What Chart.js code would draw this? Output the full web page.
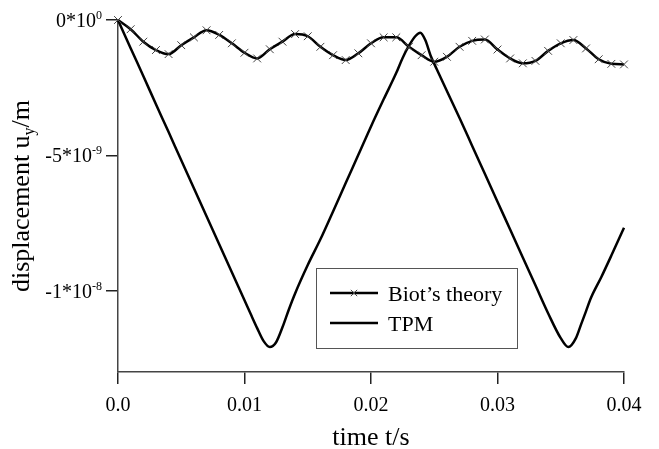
<!DOCTYPE html>
<html>
<head>
<meta charset="utf-8">
<script src="https://cdn.jsdelivr.net/npm/chart.js@4/dist/chart.umd.min.js"></script>
<style>
  body { margin: 0; background: #fff; }
  canvas { display: block; }
</style>
</head>
<body>
<canvas id="chart" width="659" height="449"></canvas>
<script>
// time in ms, displacement in 1e-9 m
const biotTime = [0, 1, 2, 3, 4, 5, 6, 7, 8, 9, 10, 11, 12, 13, 14, 15, 16, 17, 18, 19, 20,
                  21, 22, 23, 24, 25, 26, 27, 28, 29, 30, 31, 32, 33, 34, 35, 36, 37, 38, 39, 40];
const biotDisp = [0, -0.34, -0.80, -1.11, -1.26, -0.93, -0.64, -0.38, -0.55, -0.86, -1.21, -1.42,
                  -1.08, -0.80, -0.52, -0.60, -0.99, -1.30, -1.48, -1.23, -0.86, -0.64, -0.64,
                  -0.99, -1.30, -1.54, -1.36, -0.99, -0.77, -0.72, -1.09, -1.42, -1.60, -1.51,
                  -1.14, -0.86, -0.74, -1.05, -1.45, -1.62, -1.64];

const tpmTime = [0, 1, 2, 3, 4, 5, 6, 7, 8, 9, 10, 10.5, 11, 11.5, 12, 12.5, 13, 13.5, 14, 15, 16,
                 17, 18, 19, 20, 21, 22, 22.5, 23, 23.5, 23.9, 24.3, 24.7, 25.2, 26, 27, 28, 29,
                 30, 31, 32, 33, 34, 35, 35.6, 36.2, 36.6, 37, 37.4, 38.2, 39, 40];
const tpmDisp = [0, -1.04, -2.07, -3.11, -4.14, -5.18, -6.21, -7.25, -8.28, -9.32, -10.35, -10.87,
                 -11.38, -11.85, -12.08, -11.9, -11.35, -10.7, -10.1, -9.05, -8.1, -7.07, -6.02,
                 -4.98, -3.93, -2.93, -1.95, -1.4, -0.95, -0.6, -0.47, -0.75, -1.3, -1.82, -2.62,
                 -3.62, -4.65, -5.68, -6.71, -7.74, -8.77, -9.8, -10.83, -11.75, -12.08, -11.75,
                 -11.25, -10.75, -10.25, -9.5, -8.7, -7.67];

const xTicks = [0, 0.01, 0.02, 0.03, 0.04];
const xTickText = ["0.0", "0.01", "0.02", "0.03", "0.04"];
const yTicks = [0, -5e-9, -1e-8];
const yTickText = [["0*10", "0"], ["-5*10", "-9"], ["-1*10", "-8"]];

const FONT = '"Liberation Serif", "Times New Roman", serif';

// labels with superscripts/subscripts and the boxed legend
const extras = {
    id: "extras",
    afterDraw(chart) {
        const c = chart.ctx;
        const area = chart.chartArea;
        const ys = chart.scales.y;
        c.save();
        c.fillStyle = "#000";
        c.textBaseline = "alphabetic";

        // y tick labels
        yTicks.forEach((v, i) => {
            const py = ys.getPixelForValue(v);
            const right = area.left - 16;
            c.font = "12px " + FONT;
            const ew = c.measureText(yTickText[i][1]).width;
            c.textAlign = "left";
            c.fillText(yTickText[i][1], right - ew, py - 1);
            c.font = "20px " + FONT;
            c.textAlign = "right";
            c.fillText(yTickText[i][0], right - ew, py + 7);
        });

        // y title
        c.save();
        c.translate(29, (area.top + area.bottom) / 2);
        c.rotate(-Math.PI / 2);
        c.textAlign = "left";
        c.font = "26px " + FONT;
        const p1 = "displacement u", p3 = "/m";
        const w1 = c.measureText(p1).width, w3 = c.measureText(p3).width;
        c.font = "16px " + FONT;
        const w2 = c.measureText("y").width;
        let sx = -(w1 + w2 + w3) / 2;
        c.font = "26px " + FONT;
        c.fillText(p1, sx, 0);
        c.font = "16px " + FONT;
        c.fillText("y", sx + w1, 5);
        c.font = "26px " + FONT;
        c.fillText(p3, sx + w1 + w2, 0);
        c.restore();

        // x title
        c.font = "26px " + FONT;
        c.textAlign = "center";
        c.fillText("time t/s", (area.left + area.right) / 2, 445);

        // legend
        c.strokeStyle = "#555";
        c.lineWidth = 1;
        c.strokeRect(316.5, 268.5, 201, 80);
        const rows = [293, 323];
        chart.data.datasets.forEach((ds, i) => {
            const ly = rows[i];
            c.strokeStyle = ds.borderColor;
            c.lineWidth = ds.borderWidth;
            c.beginPath();
            c.moveTo(330, ly);
            c.lineTo(378, ly);
            c.stroke();
            if (ds.pointRadius > 0) {
                c.strokeStyle = ds.pointBorderColor;
                c.lineWidth = ds.pointBorderWidth;
                Chart.helpers.drawPoint(c, {
                    pointStyle: ds.pointStyle, radius: 4.5,
                    borderWidth: ds.pointBorderWidth
                }, 354, ly);
            }
            c.fillStyle = "#000";
            c.font = "22px " + FONT;
            c.textAlign = "left";
            c.fillText(ds.label, 388, ly + 8);
        });
        c.restore();
    }
};

const ctx = document.getElementById("chart").getContext("2d");
new Chart(ctx, {
    type: "line",
    data: {
        datasets: [{
            label: "Biot\u2019s theory",
            data: biotTime.map((t, i) => ({ x: t / 1000, y: biotDisp[i] * 1e-9 })),
            borderColor: "#000",
            borderWidth: 2.5,
            pointStyle: "crossRot",
            pointRadius: 5.5,
            pointBorderColor: "#444",
            pointBorderWidth: 1,
            cubicInterpolationMode: "monotone",
            clip: false
        }, {
            label: "TPM",
            data: tpmTime.map((t, i) => ({ x: t / 1000, y: tpmDisp[i] * 1e-9 })),
            borderColor: "#000",
            borderWidth: 2.5,
            pointRadius: 0,
            cubicInterpolationMode: "monotone",
            clip: false
        }]
    },
    options: {
        responsive: false,
        animation: false,
        devicePixelRatio: 1,
        layout: { padding: { left: 0, right: 35, top: 20, bottom: 0 } },
        plugins: { legend: { display: false }, tooltip: { enabled: false } },
        scales: {
            x: {
                type: "linear",
                min: 0,
                max: 0.04,
                afterBuildTicks: s => { s.ticks = xTicks.map(v => ({ value: v })); },
                afterFit: s => { s.height = 77; },
                ticks: {
                    callback: (v, i) => xTickText[i],
                    font: { family: FONT, size: 20 },
                    color: "#000",
                    padding: 10,
                    autoSkip: false,
                    maxRotation: 0
                },
                grid: { drawOnChartArea: false, tickLength: 12, color: "#222", lineWidth: 1.5 },
                border: { color: "#444", width: 1.5 }
            },
            y: {
                type: "linear",
                min: -1.3e-8,
                max: 0,
                afterBuildTicks: s => { s.ticks = yTicks.map(v => ({ value: v })); },
                afterFit: s => { s.width = 118; },
                ticks: { display: false },
                grid: { drawOnChartArea: false, tickLength: 12, color: "#222", lineWidth: 1.5 },
                border: { color: "#444", width: 1.5 }
            }
        }
    },
    plugins: [extras]
});
</script>
</body>
</html>
